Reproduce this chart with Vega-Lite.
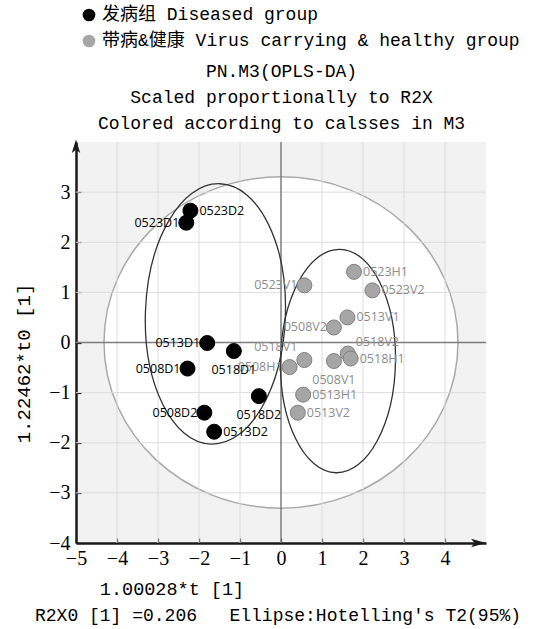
{
  "$schema": "https://vega.github.io/schema/vega-lite/v6.json",
  "width": 410,
  "height": 401,
  "autosize": {"type": "none"},
  "padding": {"left": 76, "top": 142, "right": 51, "bottom": 86},
  "background": "#ffffff",
  "config": {"view": {"fill": "#f2f2f2", "stroke": null}},
  "title": {
    "text": "R2X0 [1] =0.206\u00a0\u00a0\u00a0Ellipse:Hotelling's T2(95%)",
    "orient": "bottom",
    "anchor": "start",
    "frame": "group",
    "dx": -41,
    "offset": 9,
    "font": "Liberation Mono",
    "fontSize": 18,
    "fontWeight": "normal",
    "color": "#000000"
  },
  "datasets": {
    "pts": [
      {"sample": "0523D2", "x": -2.21, "y": 2.63, "group": "发病组 Diseased group"},
      {"sample": "0523D1", "x": -2.31, "y": 2.39, "group": "发病组 Diseased group"},
      {"sample": "0513D1", "x": -1.80, "y": -0.01, "group": "发病组 Diseased group"},
      {"sample": "0518D1", "x": -1.15, "y": -0.17, "group": "发病组 Diseased group"},
      {"sample": "0508D1", "x": -2.28, "y": -0.52, "group": "发病组 Diseased group"},
      {"sample": "0518D2", "x": -0.54, "y": -1.07, "group": "发病组 Diseased group"},
      {"sample": "0508D2", "x": -1.87, "y": -1.40, "group": "发病组 Diseased group"},
      {"sample": "0513D2", "x": -1.63, "y": -1.78, "group": "发病组 Diseased group"},
      {"sample": "0523H1", "x": 1.78, "y": 1.41, "group": "带病&健康 Virus carrying & healthy group"},
      {"sample": "0523V2", "x": 2.23, "y": 1.04, "group": "带病&健康 Virus carrying & healthy group"},
      {"sample": "0523V1", "x": 0.57, "y": 1.14, "group": "带病&健康 Virus carrying & healthy group"},
      {"sample": "0513V1", "x": 1.62, "y": 0.50, "group": "带病&健康 Virus carrying & healthy group"},
      {"sample": "0508V2", "x": 1.29, "y": 0.30, "group": "带病&健康 Virus carrying & healthy group"},
      {"sample": "0518V2", "x": 1.63, "y": -0.22, "group": "带病&健康 Virus carrying & healthy group"},
      {"sample": "0518H1", "x": 1.70, "y": -0.32, "group": "带病&健康 Virus carrying & healthy group"},
      {"sample": "0508V1", "x": 1.29, "y": -0.37, "group": "带病&健康 Virus carrying & healthy group"},
      {"sample": "0518V1", "x": 0.57, "y": -0.35, "group": "带病&健康 Virus carrying & healthy group"},
      {"sample": "0508H1", "x": 0.21, "y": -0.49, "group": "带病&健康 Virus carrying & healthy group"},
      {"sample": "0513H1", "x": 0.54, "y": -1.04, "group": "带病&健康 Virus carrying & healthy group"},
      {"sample": "0513V2", "x": 0.41, "y": -1.40, "group": "带病&健康 Virus carrying & healthy group"}
    ],
    "ellipses": [
      {"name": "T2", "x": 0, "y": 0},
      {"name": "Diseased", "x": -1.60, "y": 0.57},
      {"name": "Virus", "x": 1.39, "y": -0.37}
    ],
    "gridx": [{"v": -4}, {"v": -3}, {"v": -2}, {"v": -1}, {"v": 1}, {"v": 2}, {"v": 3}, {"v": 4}],
    "gridy": [{"v": -3}, {"v": -2}, {"v": -1}, {"v": 1}, {"v": 2}, {"v": 3}],
    "zero": [{"v": 0}],
    "arrows": [
      {"dir": "up", "x": -5, "y": 4},
      {"dir": "right", "x": 5, "y": -4}
    ]
  },
  "layer": [
    {
      "data": {"name": "ellipses"},
      "transform": [{"filter": {"field": "name", "equal": "T2"}}],
      "mark": {
        "type": "point",
        "shape": "M -1 0 C -1 -0.517 -0.5523 -0.936 0 -0.936 C 0.5523 -0.936 1 -0.517 1 0 C 1 0.517 0.5523 0.936 0 0.936 C -0.5523 0.936 -1 0.517 -1 0 Z",
        "size": 125316,
        "filled": true,
        "fill": "#ffffff",
        "stroke": "#a9a9a9",
        "strokeWidth": 1.5,
        "opacity": 1
      },
      "encoding": {
        "x": {"field": "x", "type": "quantitative", "axis": null},
        "y": {"field": "y", "type": "quantitative", "axis": null}
      }
    },
    {
      "data": {"name": "gridx"},
      "mark": {"type": "rule", "color": "#dcdcdc", "strokeWidth": 1},
      "encoding": {"x": {"field": "v", "type": "quantitative", "axis": null}}
    },
    {
      "data": {"name": "gridy"},
      "mark": {"type": "rule", "color": "#dcdcdc", "strokeWidth": 1},
      "encoding": {"y": {"field": "v", "type": "quantitative", "axis": null}}
    },
    {
      "data": {"name": "zero"},
      "mark": {"type": "rule", "color": "#7d7d7d", "strokeWidth": 1.5},
      "encoding": {"x": {"field": "v", "type": "quantitative", "axis": null}}
    },
    {
      "data": {"name": "zero"},
      "mark": {"type": "rule", "color": "#7d7d7d", "strokeWidth": 1.5},
      "encoding": {"y": {"field": "v", "type": "quantitative", "axis": null}}
    },
    {
      "data": {"name": "ellipses"},
      "transform": [{"filter": {"field": "name", "equal": "Diseased"}}],
      "mark": {
        "type": "point",
        "shape": "M -1 0 C -1 -1.028 -0.5523 -1.861 0 -1.861 C 0.5523 -1.861 1 -1.028 1 0 C 1 1.028 0.5523 1.861 0 1.861 C -0.5523 1.861 -1 1.028 -1 0 Z",
        "size": 19600,
        "filled": false,
        "stroke": "#333333",
        "strokeWidth": 1.3,
        "angle": 2,
        "opacity": 1
      },
      "encoding": {
        "x": {"field": "x", "type": "quantitative", "axis": null},
        "y": {"field": "y", "type": "quantitative", "axis": null}
      }
    },
    {
      "data": {"name": "ellipses"},
      "transform": [{"filter": {"field": "name", "equal": "Virus"}}],
      "mark": {
        "type": "point",
        "shape": "M -1 0 C -1 -1.073 -0.5523 -1.943 0 -1.943 C 0.5523 -1.943 1 -1.073 1 0 C 1 1.073 0.5523 1.943 0 1.943 C -0.5523 1.943 -1 1.073 -1 0 Z",
        "size": 13225,
        "filled": false,
        "stroke": "#333333",
        "strokeWidth": 1.3,
        "angle": 1,
        "opacity": 1
      },
      "encoding": {
        "x": {"field": "x", "type": "quantitative", "axis": null},
        "y": {"field": "y", "type": "quantitative", "axis": null}
      }
    },
    {
      "data": {"name": "pts"},
      "mark": {"type": "point", "filled": true, "size": 225, "opacity": 1, "strokeWidth": 1},
      "encoding": {
        "x": {
          "field": "x", "type": "quantitative",
          "scale": {"domain": [-5, 5], "nice": false, "zero": false},
          "axis": {
            "orient": "bottom",
            "values": [-5, -4, -3, -2, -1, 0, 1, 2, 3, 4],
            "grid": false,
            "domainColor": "#1a1a1a", "domainWidth": 2.5,
            "ticks": true, "tickColor": "#1a1a1a", "tickSize": -5, "tickWidth": 1.2,
            "labelFont": "Liberation Serif", "labelFontSize": 20, "labelColor": "#000000",
            "labelPadding": 10.8, "labelFlush": false, "labelOverlap": false,
            "title": "1.00028*t [1]",
            "titleFont": "Liberation Mono", "titleFontSize": 18.5, "titleFontWeight": "normal", "titleColor": "#000000",
            "titleX": 95.5, "titleY": 36.5, "titleAlign": "center", "titleBaseline": "top"
          }
        },
        "y": {
          "field": "y", "type": "quantitative",
          "scale": {"domain": [-4, 4], "nice": false, "zero": false},
          "axis": {
            "orient": "left",
            "values": [-4, -3, -2, -1, 0, 1, 2, 3],
            "grid": false,
            "domainColor": "#1a1a1a", "domainWidth": 2.5,
            "ticks": true, "tickColor": "#1a1a1a", "tickSize": -5, "tickWidth": 1.2,
            "labelFont": "Liberation Serif", "labelFontSize": 20, "labelColor": "#000000",
            "labelPadding": 11, "labelFlush": false, "labelOverlap": false,
            "title": "1.22462*t0 [1]",
            "titleFont": "Liberation Mono", "titleFontSize": 19, "titleFontWeight": "normal", "titleColor": "#000000",
            "titleX": -43, "titleY": 221, "titleAngle": -90, "titleAlign": "center", "titleBaseline": "bottom"
          }
        },
        "color": {
          "field": "group", "type": "nominal",
          "scale": {"domain": ["发病组 Diseased group", "带病&健康 Virus carrying & healthy group"], "range": ["#000000", "#a6a6a6"]},
          "legend": {
            "orient": "top", "title": null, "direction": "vertical",
            "labelFont": "Liberation Mono, Noto Sans CJK SC", "labelFontSize": 18, "labelColor": "#000000", "labelLimit": 600,
            "symbolType": "circle", "symbolSize": 161, "symbolStrokeWidth": 0,
            "rowPadding": 8, "labelOffset": 4, "offset": 8, "padding": 4
          }
        },
        "stroke": {
          "field": "group", "type": "nominal",
          "scale": {"domain": ["发病组 Diseased group", "带病&健康 Virus carrying & healthy group"], "range": ["#000000", "#7f7f7f"]},
          "legend": null
        }
      }
    },
    {
      "data": {"name": "pts"},
      "transform": [{"filter": {"field": "sample", "oneOf": ["0523D2", "0513D2", "0523H1", "0523V2", "0513V1", "0518H1", "0513H1", "0513V2"]}}],
      "mark": {"type": "text", "font": "Open Sans", "fontSize": 12.5, "baseline": "middle", "align": "left", "dx": 9},
      "encoding": {
        "x": {"field": "x", "type": "quantitative", "axis": null},
        "y": {"field": "y", "type": "quantitative", "axis": null},
        "text": {"field": "sample"},
        "fill": {"field": "group", "type": "nominal", "scale": {"domain": ["发病组 Diseased group", "带病&健康 Virus carrying & healthy group"], "range": ["#000000", "#8c8c8c"]}, "legend": null}
      }
    },
    {
      "data": {"name": "pts"},
      "transform": [{"filter": {"field": "sample", "oneOf": ["0523D1", "0513D1", "0508D1", "0508D2", "0523V1", "0508V2", "0508H1"]}}],
      "mark": {"type": "text", "font": "Open Sans", "fontSize": 12.5, "baseline": "middle", "align": "right", "dx": -7},
      "encoding": {
        "x": {"field": "x", "type": "quantitative", "axis": null},
        "y": {"field": "y", "type": "quantitative", "axis": null},
        "text": {"field": "sample"},
        "fill": {"field": "group", "type": "nominal", "scale": {"domain": ["发病组 Diseased group", "带病&健康 Virus carrying & healthy group"], "range": ["#000000", "#8c8c8c"]}, "legend": null}
      }
    },
    {
      "data": {"name": "pts"},
      "transform": [{"filter": {"field": "sample", "oneOf": ["0518D1", "0518D2", "0508V1"]}}],
      "mark": {"type": "text", "font": "Open Sans", "fontSize": 12.5, "baseline": "middle", "align": "center", "dy": 19},
      "encoding": {
        "x": {"field": "x", "type": "quantitative", "axis": null},
        "y": {"field": "y", "type": "quantitative", "axis": null},
        "text": {"field": "sample"},
        "fill": {"field": "group", "type": "nominal", "scale": {"domain": ["发病组 Diseased group", "带病&健康 Virus carrying & healthy group"], "range": ["#000000", "#8c8c8c"]}, "legend": null}
      }
    },
    {
      "data": {"name": "pts"},
      "transform": [{"filter": {"field": "sample", "oneOf": ["0518V2"]}}],
      "mark": {"type": "text", "font": "Open Sans", "fontSize": 12.5, "baseline": "middle", "align": "left", "dx": 8, "dy": -12},
      "encoding": {
        "x": {"field": "x", "type": "quantitative", "axis": null},
        "y": {"field": "y", "type": "quantitative", "axis": null},
        "text": {"field": "sample"},
        "fill": {"field": "group", "type": "nominal", "scale": {"domain": ["发病组 Diseased group", "带病&健康 Virus carrying & healthy group"], "range": ["#000000", "#8c8c8c"]}, "legend": null}
      }
    },
    {
      "data": {"name": "pts"},
      "transform": [{"filter": {"field": "sample", "oneOf": ["0518V1"]}}],
      "mark": {"type": "text", "font": "Open Sans", "fontSize": 12.5, "baseline": "middle", "align": "right", "dx": -7, "dy": -13},
      "encoding": {
        "x": {"field": "x", "type": "quantitative", "axis": null},
        "y": {"field": "y", "type": "quantitative", "axis": null},
        "text": {"field": "sample"},
        "fill": {"field": "group", "type": "nominal", "scale": {"domain": ["发病组 Diseased group", "带病&健康 Virus carrying & healthy group"], "range": ["#000000", "#8c8c8c"]}, "legend": null}
      }
    },
    {
      "data": {"name": "arrows"},
      "transform": [{"filter": {"field": "dir", "equal": "up"}}],
      "mark": {"type": "point", "shape": "M 0 -0.42 L 0.7 1.85 L 0 1.3 L -0.7 1.85 Z", "size": 144, "filled": true, "fill": "#1a1a1a", "opacity": 1},
      "encoding": {
        "x": {
          "field": "x", "type": "quantitative",
          "axis": {
            "orient": "top", "labels": false, "ticks": false, "domain": false, "grid": false,
            "title": ["PN.M3(OPLS-DA)", "Scaled proportionally to R2X", "Colored according to calsses in M3"],
            "titleFont": "Liberation Mono", "titleFontSize": 18, "titleFontWeight": "normal", "titleColor": "#000000",
            "titleLineHeight": 26, "titlePadding": 10, "titleBaseline": "bottom"
          }
        },
        "y": {"field": "y", "type": "quantitative", "axis": null}
      }
    },
    {
      "data": {"name": "arrows"},
      "transform": [{"filter": {"field": "dir", "equal": "right"}}],
      "mark": {"type": "point", "shape": "M 0 0 L -2.5 -0.7 L -1.9 0 L -2.5 0.7 Z", "size": 144, "filled": true, "fill": "#1a1a1a", "opacity": 1},
      "encoding": {
        "x": {"field": "x", "type": "quantitative", "axis": null},
        "y": {"field": "y", "type": "quantitative", "axis": null}
      }
    }
  ],
  "resolve": {"axis": {"x": "independent", "y": "independent"}}
}
